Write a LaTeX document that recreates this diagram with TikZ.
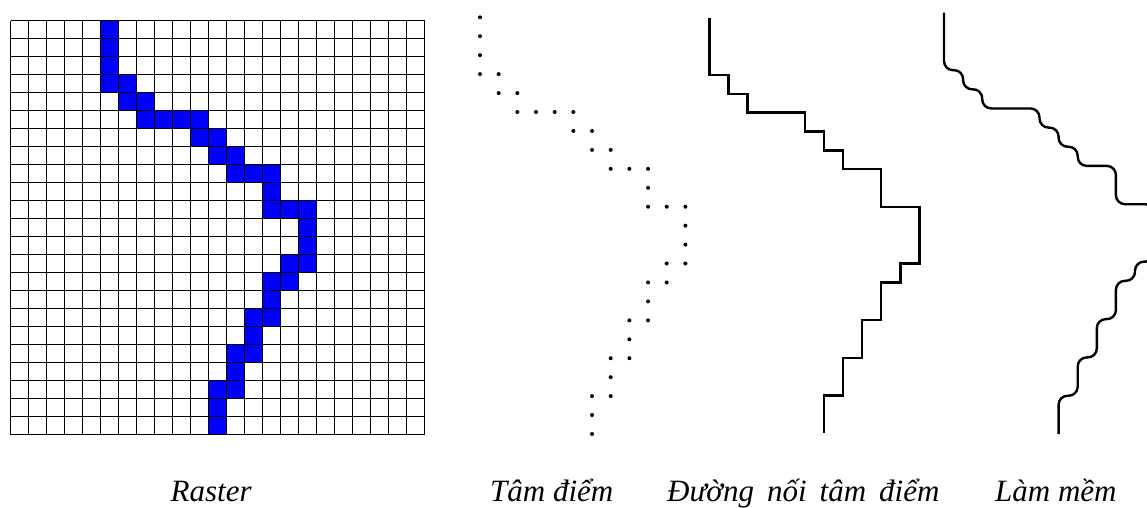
\documentclass[tikz,border=0pt]{standalone}
\usepackage{fontspec}
\setmainfont{Liberation Serif}
\begin{document}
\begin{tikzpicture}[x=1pt,y=-1pt,
  gridline/.style={black,line width=1.2pt},
  pixel/.style={fill=blue},
  centerdot/.style={fill=black},
  stairline/.style={black,line width=2.4pt},
  smoothline/.style={black,line width=2.4pt,rounded corners=9pt},
  caption/.style={font=\itshape\fontsize{31}{36}\selectfont,anchor=base west,inner sep=0pt}]
\useasboundingbox (0,0) rectangle (1147,507);
% Raster grid
\begin{scope}[shift={(10.5,20.5)},x=18pt,y=-18pt]
  \foreach \c/\r in {5/0,5/1,5/2,5/3,6/3,6/4,7/4,7/5,8/5,9/5,10/5,10/6,11/6,11/7,12/7,12/8,13/8,14/8,14/9,14/10,15/10,16/10,16/11,16/12,15/13,16/13,14/14,15/14,14/15,13/16,14/16,13/17,12/18,13/18,12/19,11/20,12/20,11/21,11/22}
    \fill[pixel] (\c,\r) rectangle ++(1,1);
  \foreach \i in {0,...,23} {
    \draw[gridline] (\i,0) -- (\i,23);
    \draw[gridline] (0,\i) -- (23,\i);
  }
\end{scope}
% pixel centres
\begin{scope}[shift={(386.65,17.3)},x=18.67pt,y=-18.94pt]
  \foreach \c/\r in {5/0,5/1,5/2,5/3,6/3,6/4,7/4,7/5,8/5,9/5,10/5,10/6,11/6,11/7,12/7,12/8,13/8,14/8,14/9,14/10,15/10,16/10,16/11,16/12,15/13,16/13,14/14,15/14,14/15,13/16,14/16,13/17,12/18,13/18,12/19,11/20,12/20,11/21,11/22}
    \fill[centerdot] (\c,\r) circle[radius=2pt];
\end{scope}
% staircase through centres
\begin{scope}[shift={(613.8,18.3)},x=19.1pt,y=-18.86pt]
  \draw[stairline] (5,0) -- (5,3) -- (6,3) -- (6,4) -- (7,4) -- (7,5) -- (10,5) -- (10,6) -- (11,6) -- (11,7) -- (12,7) -- (12,8) -- (14,8) -- (14,10) -- (16,10) -- (16,13) -- (15,13) -- (15,14) -- (14,14) -- (14,16) -- (13,16) -- (13,18) -- (12,18) -- (12,20) -- (11,20) -- (11,22);
\end{scope}
% smoothed line (clipped at the right edge)
\begin{scope}
  \clip (0,0) rectangle (1147,507);
  \begin{scope}[shift={(848.5,12.7)},x=19.1pt,y=-19.15pt]
    \draw[smoothline] (5,0) -- (5,3) -- (6,3) -- (6,4) -- (7,4) -- (7,5) -- (10,5) -- (10,6) -- (11,6) -- (11,7) -- (12,7) -- (12,8) -- (14,8) -- (14,10) -- (16,10) -- (16,13) -- (15,13) -- (15,14) -- (14,14) -- (14,16) -- (13,16) -- (13,18) -- (12,18) -- (12,20) -- (11,20) -- (11,22);
  \end{scope}
\end{scope}
% captions
\node[caption] (raster) at (170.5,501.5) {Raster};
\node[caption] (centres) at (490,501.5) {Tâm điểm};
\node[caption] (joined) at (667,501.5) {\spaceskip=13pt\relax Đường nối tâm điểm};
\node[caption] (smoothed) at (995,501.5) {Làm mềm};
\end{tikzpicture}
\end{document}
